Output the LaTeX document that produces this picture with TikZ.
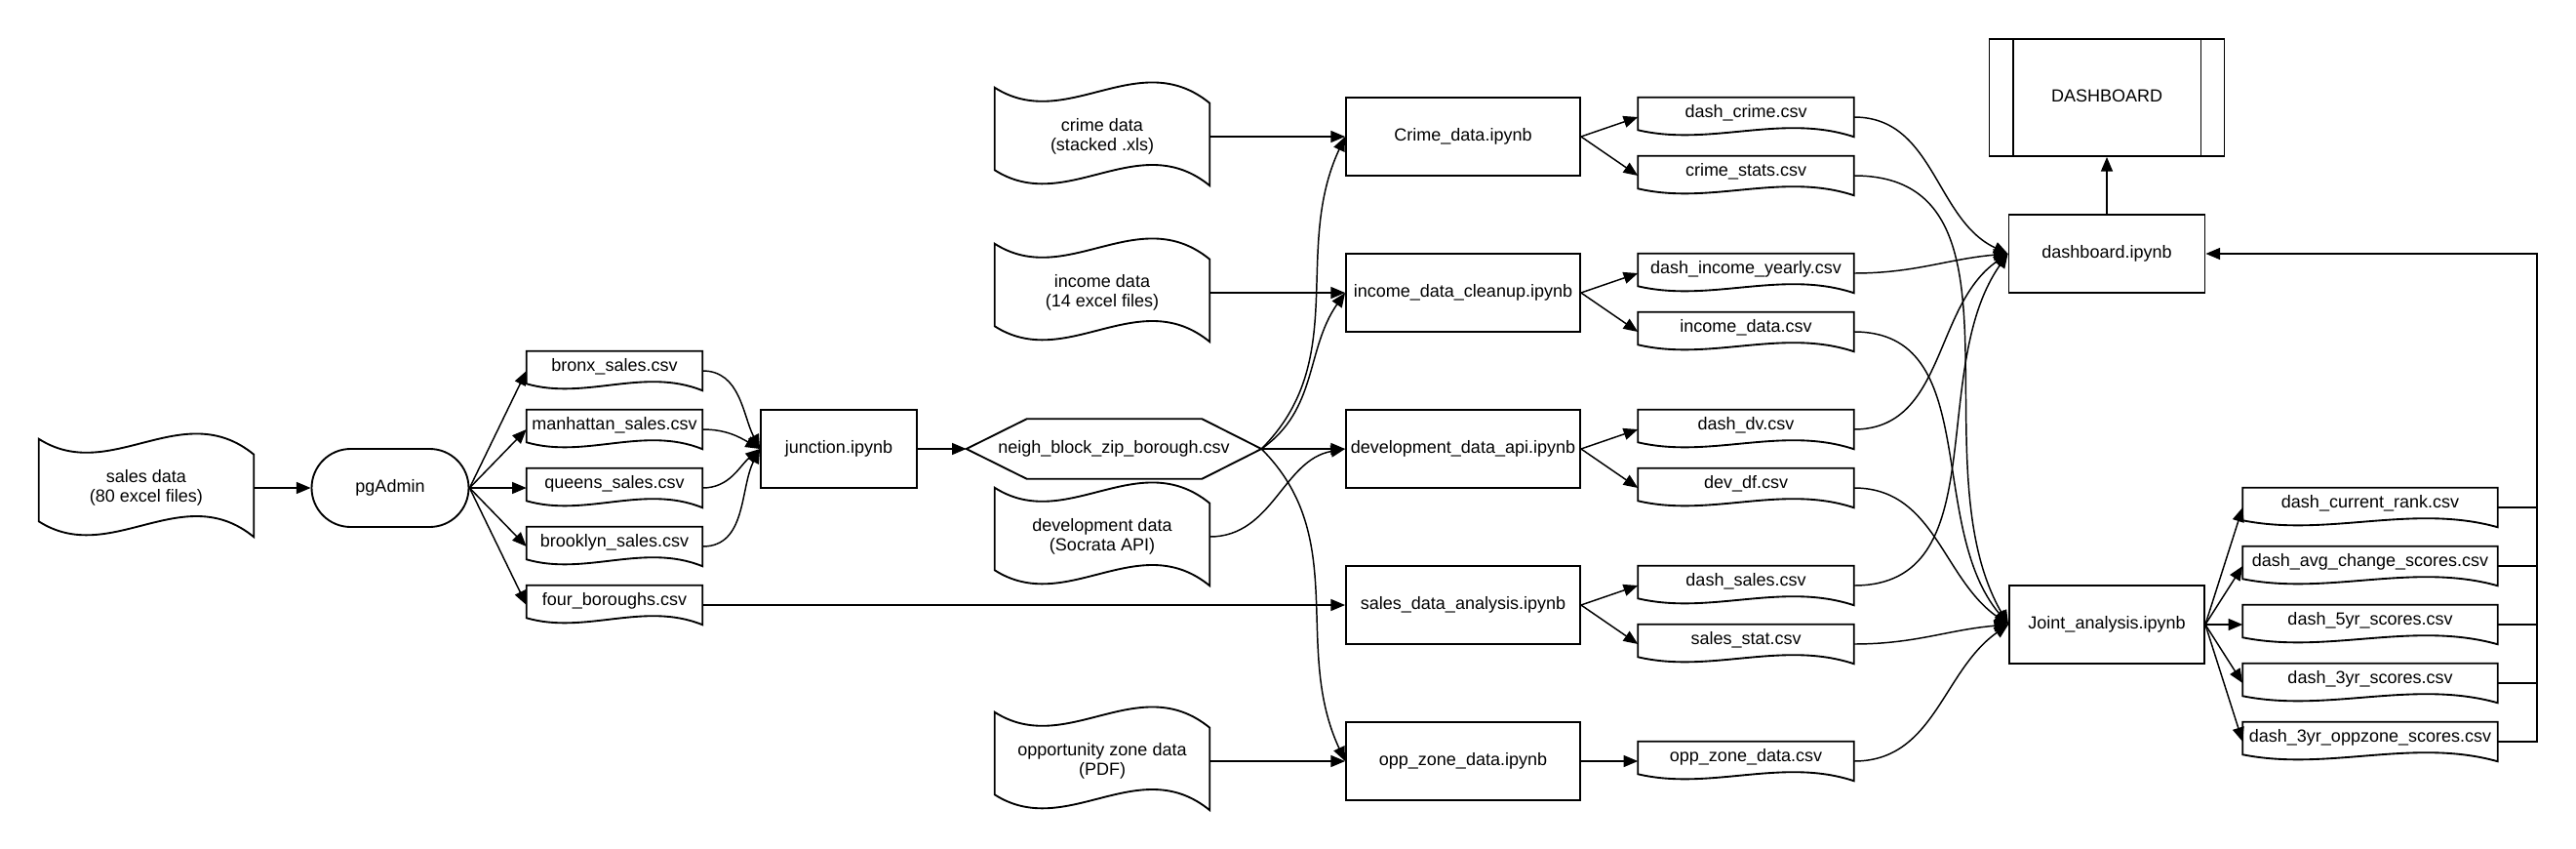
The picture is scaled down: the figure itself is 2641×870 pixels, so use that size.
\documentclass[tikz,border=0pt]{standalone}
\usepackage{fontspec}
\setmainfont{Liberation Sans}
\usetikzlibrary{arrows.meta,calc,shapes.misc}

% outline of a "document" shape (flat top, wavy bottom) around a node
\newcommand\docoutline[1]{%
  \draw[shapeline] (#1.north west) -- (#1.north east) -- (#1.south east)
    .. controls ($(#1.south west)!2/3!(#1.south east)+(0,24.5)$) and ($(#1.south west)!1/3!(#1.south east)+(0,-10.4)$)
    .. ($(#1.south west)+(0,7)$) -- cycle;}
% outline of a "punched tape" shape (wavy top and bottom) around a node
\newcommand\tapeoutline[1]{%
  \draw[shapeline] (#1.north west)
    .. controls ($(#1.north west)!1/3!(#1.north east)+(0,-47)$) and ($(#1.north west)!2/3!(#1.north east)+(0,44)$)
    .. ($(#1.north east)+(0,-16)$) -- (#1.south east)
    .. controls ($(#1.south west)!2/3!(#1.south east)+(0,60)$) and ($(#1.south west)!1/3!(#1.south east)+(0,-31)$)
    .. ($(#1.south west)+(0,16)$) -- cycle;}

\begin{document}
\begin{tikzpicture}[x=0.75pt, y=0.75pt,
  font=\fontsize{13.5pt}{15.5pt}\selectfont,
  shapeline/.style={line width=1.4pt, line join=miter},
  conn/.style={line width=1.1pt, -{Triangle[length=11pt,width=9pt]}},
  plainline/.style={line width=1.1pt},
  proc/.style={draw, shapeline, rectangle, inner sep=0pt, minimum width=180pt, minimum height=60pt, text height=9.7pt, text depth=2.8pt},
  docnode/.style={inner sep=0pt, minimum height=30pt, text height=8pt, text depth=6.6pt},
  doca/.style={docnode, minimum width=135pt},
  docb/.style={docnode, minimum width=165.75pt},
  docc/.style={docnode, minimum width=195.75pt},
  tapenode/.style={inner sep=0pt, minimum width=165pt, minimum height=75pt, align=center},
  termnode/.style={draw, shapeline, rounded rectangle, inner sep=0pt, minimum width=120.75pt, minimum height=60pt, text height=9.7pt, text depth=2.8pt},
  hexnode/.style={inner sep=0pt, minimum width=226.5pt, minimum height=45.75pt, text height=9.7pt, text depth=2.8pt},
  dbnode/.style={draw, shapeline, rectangle, inner sep=0pt, minimum width=180.75pt, minimum height=90pt, text height=9.7pt, text depth=2.8pt},
]
\useasboundingbox (0,0) rectangle (2641,-870);

% ---- left part
\node[tapenode] (salesdata) at (150,-500) {sales data\\(80 excel files)};
\node[termnode] (pgadmin) at (400,-500) {pgAdmin};
\node[doca] (bronx) at (630,-380) {bronx\_sales.csv};
\node[doca] (manhattan) at (630,-440) {manhattan\_sales.csv};
\node[doca] (queens) at (630,-500) {queens\_sales.csv};
\node[doca] (brooklyn) at (630,-560) {brooklyn\_sales.csv};
\node[doca] (four) at (630,-620) {four\_boroughs.csv};
\node[proc, minimum width=120pt] (junction) at (860,-460) {junction.ipynb};
\node[hexnode] (hex) at (1142,-460) {neigh\_block\_zip\_borough.csv};

% ---- raw data tapes
\node[tapenode] (crimedata) at (1130,-140) {crime data\\(stacked .xls)};
\node[tapenode] (incomedata) at (1130,-300) {income data\\(14 excel files)};
\node[tapenode] (devdata) at (1130,-550) {development data\\(Socrata API)};
\node[tapenode] (oppdata) at (1130,-780) {opportunity zone data\\(PDF)};

% ---- notebooks
\node[proc] (crimenb) at (1500,-140) {Crime\_data.ipynb};
\node[proc] (incomenb) at (1500,-300) {income\_data\_cleanup.ipynb};
\node[proc] (devnb) at (1500,-460) {development\_data\_api.ipynb};
\node[proc] (salesnb) at (1500,-620) {sales\_data\_analysis.ipynb};
\node[proc] (oppnb) at (1500,-780) {opp\_zone\_data.ipynb};

% ---- intermediate csv files
\node[docb] (dashcrime) at (1790,-120) {dash\_crime.csv};
\node[docb] (crimestats) at (1790,-180) {crime\_stats.csv};
\node[docb] (dashincome) at (1790,-280) {dash\_income\_yearly.csv};
\node[docb] (incomecsv) at (1790,-340) {income\_data.csv};
\node[docb] (dashdv) at (1790,-440) {dash\_dv.csv};
\node[docb] (devdf) at (1790,-500) {dev\_df.csv};
\node[docb] (dashsales) at (1790,-600) {dash\_sales.csv};
\node[docb] (salesstat) at (1790,-660) {sales\_stat.csv};
\node[docb] (oppcsv) at (1790,-780) {opp\_zone\_data.csv};

% ---- right part
\node[dbnode] (dashboard) at (2160,-100) {DASHBOARD};
\node[proc, minimum width=150.75pt] (dashnb) at (2160,-260) {dashboard.ipynb};
\node[proc, minimum width=150pt] (joint) at (2160,-640) {Joint\_analysis.ipynb};
\node[docc] (rank) at (2430,-520) {dash\_current\_rank.csv};
\node[docc] (avgchange) at (2430,-580) {dash\_avg\_change\_scores.csv};
\node[docc] (fiveyr) at (2430,-640) {dash\_5yr\_scores.csv};
\node[docc] (threeyr) at (2430,-700) {dash\_3yr\_scores.csv};
\node[docc] (oppzone) at (2430,-760) {dash\_3yr\_oppzone\_scores.csv};
\coordinate (bus) at (2601,-260);

% ---- outlines of special shapes
\tapeoutline{salesdata}
\tapeoutline{crimedata}
\tapeoutline{incomedata}
\tapeoutline{devdata}
\tapeoutline{oppdata}
\foreach \n in {bronx,manhattan,queens,brooklyn,four,dashcrime,crimestats,dashincome,incomecsv,dashdv,devdf,dashsales,salesstat,oppcsv,rank,avgchange,fiveyr,threeyr,oppzone}
  {\docoutline{\n}}
\draw[shapeline] (hex.west) -- ($(hex.north west)+(62,0)$) -- ($(hex.north east)+(-61,0)$)
  -- (hex.east) -- ($(hex.south east)+(-61,0)$) -- ($(hex.south west)+(62,0)$) -- cycle;
\draw[shapeline] ($(dashboard.north west)+(25,0)$) -- ($(dashboard.south west)+(25,0)$);
\draw[shapeline] ($(dashboard.north east)+(-25,0)$) -- ($(dashboard.south east)+(-25,0)$);

% ---- connectors, left part
\draw[conn] (salesdata.east) -- (pgadmin.west);
\foreach \n in {bronx,manhattan,queens,brooklyn,four}
  {\draw[conn] (pgadmin.east) -- (\n.west);}
\draw[conn] (bronx.east) to[out=0,in=117] (junction.west);
\draw[conn] (manhattan.east) to[out=0,in=150] (junction.west);
\draw[conn] (queens.east) to[out=0,in=220] (junction.west);
\draw[conn] (brooklyn.east) to[out=0,in=243] (junction.west);
\draw[conn] (junction.east) -- (hex.west);
\draw[conn] (four.east) -- (salesnb.west);

% ---- connectors, middle
\draw[conn] (crimedata.east) -- (crimenb.west);
\draw[conn] (incomedata.east) -- (incomenb.west);
\draw[conn] (oppdata.east) -- (oppnb.west);
\draw[conn] (hex.east) to[out=45,in=-115] (crimenb.west);
\draw[conn] (hex.east) to[out=35,in=-125] (incomenb.west);
\draw[conn] (hex.east) -- (devnb.west);
\draw[conn] (hex.east) to[out=-45,in=115] (oppnb.west);
\draw[conn] (devdata.east) to[out=0,in=190] (devnb.west);

\draw[conn] (crimenb.east) -- (dashcrime.west);
\draw[conn] (crimenb.east) -- (crimestats.west);
\draw[conn] (incomenb.east) -- (dashincome.west);
\draw[conn] (incomenb.east) -- (incomecsv.west);
\draw[conn] (devnb.east) -- (dashdv.west);
\draw[conn] (devnb.east) -- (devdf.west);
\draw[conn] (salesnb.east) -- (dashsales.west);
\draw[conn] (salesnb.east) -- (salesstat.west);
\draw[conn] (oppnb.east) -- (oppcsv.west);

% ---- csv files into dashboard / joint analysis
\draw[conn] (dashcrime.east) to[out=0,in=155] (dashnb.west);
\draw[conn] (dashincome.east) to[out=0,in=185] (dashnb.west);
\draw[conn] (dashdv.east) to[out=0,in=215] (dashnb.west);
\draw[conn] (dashsales.east) to[out=0,in=235] (dashnb.west);
\draw[conn] (crimestats.east) to[out=0,in=120] (joint.west);
\draw[conn] (incomecsv.east) to[out=0,in=130] (joint.west);
\draw[conn] (devdf.east) to[out=0,in=145] (joint.west);
\draw[conn] (salesstat.east) to[out=0,in=185] (joint.west);
\draw[conn] (oppcsv.east) to[out=0,in=215] (joint.west);

% ---- right part
\draw[conn] (dashnb.north) -- (dashboard.south);
\foreach \n in {rank,avgchange,fiveyr,threeyr,oppzone}
  {\draw[conn] (joint.east) -- (\n.west);}
\foreach \n in {rank,avgchange,fiveyr,threeyr}
  {\draw[plainline] (\n.east) -- (\n.east -| bus);}
\draw[conn] (oppzone.east) -| (bus) -- (dashnb.east);
\end{tikzpicture}
\end{document}
